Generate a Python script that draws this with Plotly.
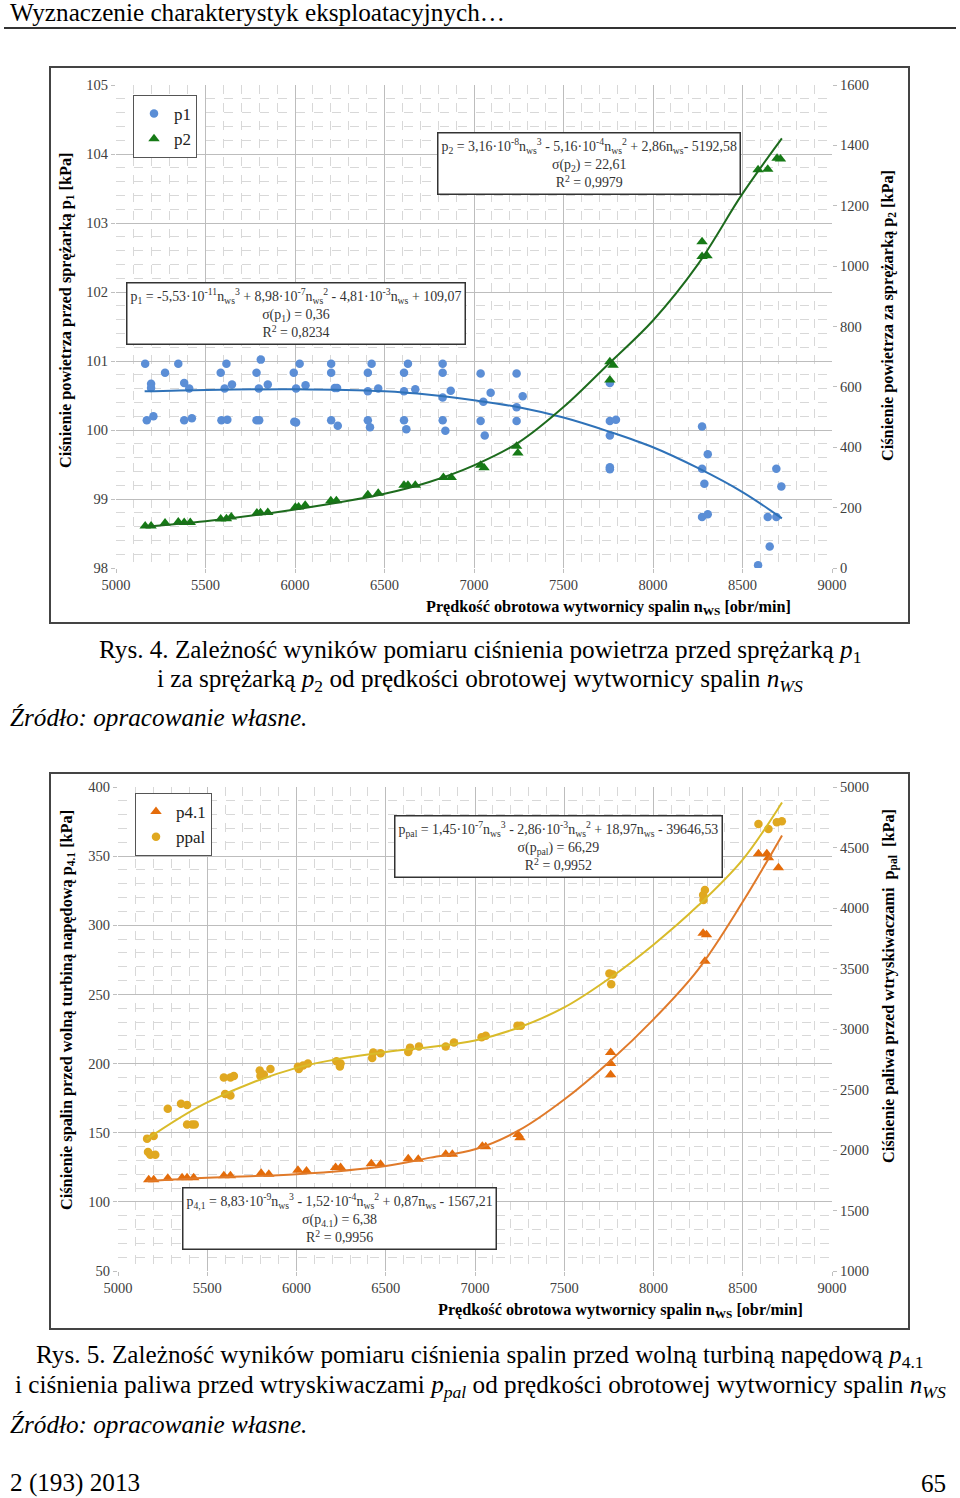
import plotly.graph_objects as go

# ---------------- Chart 1 (Rys. 4) data ----------------
n_p1 = [5163, 5196, 5196, 5172, 5209, 5274, 5348, 5381, 5409, 5381, 5424,
        5585, 5617, 5607, 5648, 5589, 5622, 5785, 5809, 5798, 5848, 5785, 5800,
        5993, 6026, 6006, 6059, 5996, 6006, 6202, 6202, 6222, 6235, 6202, 6239,
        6407, 6428, 6407, 6465, 6407, 6419, 6609, 6631, 6609, 6672, 6609, 6622,
        6825, 6825, 6825, 6870, 6825, 6840, 7037, 7052, 7093, 7037, 7060,
        7238, 7238, 7272, 7238, 7759, 7759, 7793, 7759, 7759, 7759,
        8274, 8274, 8287, 8306, 8274, 8306, 8689, 8717, 8641, 8689, 8652, 8587]
p1_vals = [100.96, 100.67, 100.61, 100.14, 100.20, 100.83, 100.96, 100.68, 100.60, 100.14, 100.17,
           100.83, 100.96, 100.60, 100.66, 100.14, 100.15, 100.83, 101.02, 100.60, 100.66, 100.14, 100.14,
           100.83, 100.96, 100.60, 100.65, 100.12, 100.11, 100.96, 100.83, 100.61, 100.61, 100.14, 100.06,
           100.83, 100.96, 100.56, 100.60, 100.14, 100.04, 100.83, 100.96, 100.56, 100.59, 100.14, 100.01,
           100.96, 100.83, 100.47, 100.57, 100.14, 99.99, 100.82, 100.41, 100.54, 100.13, 99.92,
           100.82, 100.33, 100.49, 100.13, 100.68, 100.13, 100.15, 99.92, 99.46, 99.43,
           100.05, 99.44, 99.22, 99.65, 98.74, 98.78, 99.44, 99.18, 98.74, 98.74, 98.31, 98.04]

n_p2 = [5163, 5196, 5274, 5348, 5381, 5415, 5585, 5617, 5644, 5787, 5807, 5848,
        6002, 6020, 6057, 6200, 6231, 6407, 6465, 6609, 6631, 6672, 6829, 6873,
        7037, 7056, 7238, 7245, 7759, 7759, 7777, 8274, 8274, 8302, 8587, 8641, 8693, 8712]
p2_vals = [139, 139, 149, 152, 151, 151, 162, 163, 169, 182, 183, 184,
           201, 202, 208, 223, 223, 243, 248, 274, 274, 274, 300, 300,
           340, 332, 403, 381, 683, 623, 672, 1081, 1032, 1034, 1319, 1321, 1357, 1355]

trend_n = [5160, 5500, 6000, 6500, 6750, 7000, 7250, 7500, 7750, 8000, 8250, 8500, 8720]
p1_trend = [100.56, 100.58, 100.59, 100.56, 100.51, 100.43, 100.33, 100.18, 99.98, 99.75, 99.45, 99.10, 98.72]
p2_trend = [137, 155, 194, 246, 285, 340, 416, 533, 675, 820, 1005, 1240, 1423]

# ---------------- Chart 2 (Rys. 5) data ----------------
n_p41 = [5172, 5200, 5279, 5359, 5387, 5424, 5593, 5630, 5802, 5845, 6008, 6056,
         6219, 6247, 6419, 6471, 6626, 6682, 6836, 6873, 7041, 7060, 7241, 7252,
         7760, 7760, 7760, 8278, 8297, 8288, 8588, 8635, 8644, 8700]
p41_vals = [115.9, 115.9, 117.0, 117.5, 117.5, 117.5, 118.8, 118.8, 120.7, 120.0, 122.8, 122.4,
            124.8, 124.8, 127.6, 127.2, 131.2, 130.8, 134.4, 134.4, 140.3, 139.8, 148.7, 146.3,
            208.0, 200.0, 192.0, 294.3, 293.1, 274.0, 351.7, 351.7, 348.8, 341.6]

n_pal = [5163, 5200, 5168, 5181, 5209, 5279, 5353, 5387, 5387, 5415, 5430,
         5593, 5630, 5649, 5600, 5630, 5794, 5817, 5854, 5798, 6008, 6037, 6064, 6013,
         6224, 6247, 6243, 6424, 6430, 6471, 6626, 6636, 6686, 6836, 6882,
         7037, 7060, 7238, 7257, 7753, 7772, 7763, 8278, 8288, 8280, 8588, 8644, 8691, 8719]
pal_vals = [2094, 2115, 1983, 1960, 1960, 2341, 2383, 2371, 2211, 2211, 2211,
            2600, 2600, 2611, 2463, 2451, 2657, 2623, 2669, 2611, 2687, 2698, 2714, 2669,
            2734, 2714, 2690, 2760, 2806, 2800, 2810, 2846, 2855, 2855, 2888,
            2932, 2945, 3027, 3027, 3459, 3451, 3369, 4107, 4148, 4066, 4694, 4653, 4708, 4716]

trend2_n = [5160, 5500, 6000, 6500, 6750, 7000, 7250, 7500, 7750, 8000, 8250, 8500, 8720]
p41_trend = [115, 117.5, 120, 126, 132, 138, 152, 174, 201, 232, 268, 317, 365]
pal_trend = [2088, 2394, 2679, 2810, 2851, 2905, 3015, 3178, 3415, 3697, 4020, 4400, 4872]

x_ticks = [5000, 5500, 6000, 6500, 7000, 7500, 8000, 8500, 9000]

W, H = 960, 1498
SERIF = "Liberation Serif, Times New Roman, serif"


def px(x):
    return x / W


def py(y):
    return 1 - y / H


fig = go.Figure()

BLUE_DOT = "#5b8ed6"
BLUE_LINE = "#2f72b8"
GREEN = "#167a16"
GREEN_LINE = "#1d6b1d"
ORANGE = "#e46c0a"
ORANGE_LINE = "#e07a2a"
GOLD = "#e0a820"
GOLD_LINE = "#d9bb2a"

fig.add_trace(go.Scatter(x=n_p1, y=p1_vals, mode="markers", name="p1",
                         marker=dict(color=BLUE_DOT, size=8.5, symbol="circle"),
                         xaxis="x", yaxis="y", legend="legend"))
fig.add_trace(go.Scatter(x=n_p2, y=p2_vals, mode="markers", name="p2",
                         marker=dict(color=GREEN, size=10, symbol="triangle-up"),
                         xaxis="x", yaxis="y2", legend="legend"))
fig.add_trace(go.Scatter(x=trend_n, y=p1_trend, mode="lines", line=dict(color=BLUE_LINE, width=2, shape="spline"),
                         xaxis="x", yaxis="y", showlegend=False, hoverinfo="skip"))
fig.add_trace(go.Scatter(x=trend_n, y=p2_trend, mode="lines", line=dict(color=GREEN_LINE, width=2, shape="spline"),
                         xaxis="x", yaxis="y2", showlegend=False, hoverinfo="skip"))

fig.add_trace(go.Scatter(x=n_p41, y=p41_vals, mode="markers", name="p4.1",
                         marker=dict(color=ORANGE, size=10, symbol="triangle-up"),
                         xaxis="x2", yaxis="y3", legend="legend2"))
fig.add_trace(go.Scatter(x=n_pal, y=pal_vals, mode="markers", name="ppal",
                         marker=dict(color=GOLD, size=8.5, symbol="circle"),
                         xaxis="x2", yaxis="y4", legend="legend2"))
fig.add_trace(go.Scatter(x=trend2_n, y=p41_trend, mode="lines", line=dict(color=ORANGE_LINE, width=2, shape="spline"),
                         xaxis="x2", yaxis="y3", showlegend=False, hoverinfo="skip"))
fig.add_trace(go.Scatter(x=trend2_n, y=pal_trend, mode="lines", line=dict(color=GOLD_LINE, width=2, shape="spline"),
                         xaxis="x2", yaxis="y4", showlegend=False, hoverinfo="skip"))

tickfont = dict(family=SERIF, size=14.5, color="#404040")
grid_major = "#bdbdbd"
minor_grid = dict(showgrid=True, gridcolor="#d8d8d8", griddash="dash", gridwidth=1)

common_x = dict(range=[5000, 9000], tickvals=x_ticks, ticktext=[str(t) for t in x_ticks],
                showgrid=True, gridcolor=grid_major, gridwidth=1, zeroline=False,
                ticks="outside", ticklen=4, tickcolor="#bfbfbf", tickfont=tickfont,
                showline=False, fixedrange=True, automargin=False)

fig.update_layout(
    width=W, height=H, autosize=False,
    margin=dict(l=0, r=0, t=0, b=0, pad=0, autoexpand=False),
    paper_bgcolor="white", plot_bgcolor="white",
    font=dict(family=SERIF, color="black"),
    xaxis=dict(domain=[px(116), px(832)], anchor="y", minor=dict(dtick=100, **minor_grid), **common_x),
    yaxis=dict(domain=[py(568), py(85)], anchor="x", range=[98, 105], dtick=1,
               showgrid=True, gridcolor=grid_major, zeroline=False, automargin=False,
               minor=dict(dtick=0.2, **minor_grid),
               ticks="outside", ticklen=4, tickcolor="#bfbfbf", tickfont=tickfont),
    yaxis2=dict(overlaying="y", side="right", anchor="x", range=[0, 1600], dtick=200, automargin=False,
                showgrid=False, zeroline=False, ticks="outside", ticklen=4, tickcolor="#bfbfbf",
                tickfont=tickfont),
    xaxis2=dict(domain=[px(118), px(832)], anchor="y3", minor=dict(dtick=100, **minor_grid), **common_x),
    yaxis3=dict(domain=[py(1271), py(787)], anchor="x2", range=[50, 400], dtick=50,
                showgrid=True, gridcolor=grid_major, zeroline=False, automargin=False,
                minor=dict(dtick=10, **minor_grid),
                ticks="outside", ticklen=4, tickcolor="#bfbfbf", tickfont=tickfont),
    yaxis4=dict(overlaying="y3", side="right", anchor="x2", range=[1000, 5000], dtick=500, automargin=False,
                showgrid=False, zeroline=False, ticks="outside", ticklen=4, tickcolor="#bfbfbf",
                tickfont=tickfont),
    legend=dict(x=px(133), y=py(95), xanchor="left", yanchor="top", bgcolor="white",
                bordercolor="#555555", borderwidth=1, font=dict(family=SERIF, size=17, color="#222"),
                itemwidth=30, tracegroupgap=0),
    legend2=dict(x=px(135), y=py(793), xanchor="left", yanchor="top", bgcolor="white",
                 bordercolor="#555555", borderwidth=1, font=dict(family=SERIF, size=17, color="#222"),
                 itemwidth=30, tracegroupgap=0),
    showlegend=True,
)

shapes = [
    dict(type="line", xref="paper", yref="paper", x0=px(4), x1=px(956), y0=py(28), y1=py(28),
         line=dict(color="#333333", width=2)),
    dict(type="rect", xref="paper", yref="paper", x0=px(50), x1=px(909), y0=py(623), y1=py(67),
         line=dict(color="#444444", width=2)),
    dict(type="rect", xref="paper", yref="paper", x0=px(50), x1=px(909), y0=py(1329), y1=py(773),
         line=dict(color="#444444", width=2)),
]
fig.update_layout(shapes=shapes)

ann = []


def text(x, y, s, size, xanchor="center", angle=0, bold=False, italic=False, color="black",
         border=None, yanchor="middle", align="center"):
    if bold:
        s = "<b>" + s + "</b>"
    if italic:
        s = "<i>" + s + "</i>"
    d = dict(x=px(x), y=py(y), xref="paper", yref="paper", text=s, showarrow=False,
             xanchor=xanchor, yanchor=yanchor, textangle=angle, align=align,
             font=dict(family=SERIF, size=size, color=color))
    if border:
        d.update(bordercolor=border, borderwidth=1.5, bgcolor="white", borderpad=3)
    ann.append(d)


PAGE = 25.2
# Page texts
text(8, 13, "Wyznaczenie charakterystyk eksploatacyjnych…", PAGE, xanchor="left")
text(480, 651, "Rys. 4. Zależność wyników pomiaru ciśnienia powietrza przed sprężarką <i>p</i><sub>1</sub>", PAGE)
text(480, 680, "i za sprężarką <i>p</i><sub>2</sub> od prędkości obrotowej wytwornicy spalin <i>n<sub>WS</sub></i>", PAGE)
text(8, 717, "Źródło: opracowanie własne.", PAGE, xanchor="left", italic=True)
text(480, 1356, "Rys. 5. Zależność wyników pomiaru ciśnienia spalin przed wolną turbiną napędową <i>p</i><sub>4.1</sub>", PAGE)
text(480, 1386, "i ciśnienia paliwa przed wtryskiwaczami <i>p<sub>pal</sub></i> od prędkości obrotowej wytwornicy spalin <i>n<sub>WS</sub></i>", PAGE)
text(8, 1424, "Źródło: opracowanie własne.", PAGE, xanchor="left", italic=True)
text(8, 1483, "2 (193) 2013", PAGE, xanchor="left")
text(948, 1483, "65", PAGE, xanchor="right")

# Axis titles chart 1
text(66, 311, "Ciśnienie powietrza przed sprężarką p<sub>1</sub> [kPa]", 16.3, angle=-90, bold=True)
text(888, 316, "Ciśnienie powietrza za sprężarką p<sub>2</sub> [kPa]", 16.3, angle=-90, bold=True)
text(608, 607, "Prędkość obrotowa wytwornicy spalin n<sub>WS</sub> [obr/min]", 16.2, bold=True)
# Axis titles chart 2
text(67, 1010, "Ciśnienie spalin przed wolną turbiną napędową p<sub>4.1</sub> [kPa]", 16.3, angle=-90, bold=True)
text(889, 986, "Ciśnienie paliwa przed wtryskiwaczami  p<sub>pal</sub>  [kPa]", 16.3, angle=-90, bold=True)
text(620, 1310, "Prędkość obrotowa wytwornicy spalin n<sub>WS</sub> [obr/min]", 16.2, bold=True)

EQ = 13.9
# Equation boxes
text(589, 164, "p<sub>2</sub> = 3,16·10<sup>-8</sup>n<sub>ws</sub><sup>3</sup> - 5,16·10<sup>-4</sup>n<sub>ws</sub><sup>2</sup>"
               " + 2,86n<sub>ws</sub>- 5192,58<br>σ(p<sub>2</sub>) = 22,61<br>R<sup>2</sup> = 0,9979", EQ,
     border="#333333", color="#333")
text(296, 314, "p<sub>1</sub> = -5,53·10<sup>-11</sup>n<sub>ws</sub><sup>3</sup> + 8,98·10<sup>-7</sup>n<sub>ws</sub><sup>2</sup>"
               " - 4,81·10<sup>-3</sup>n<sub>ws</sub> + 109,07<br>σ(p<sub>1</sub>) = 0,36<br>R<sup>2</sup> = 0,8234", EQ,
     border="#333333", color="#333")
text(558, 846, "p<sub>pal</sub> = 1,45·10<sup>-7</sup>n<sub>ws</sub><sup>3</sup> - 2,86·10<sup>-3</sup>n<sub>ws</sub><sup>2</sup>"
               " + 18,97n<sub>ws</sub> - 39646,53<br>σ(p<sub>pal</sub>) = 66,29<br>R<sup>2</sup> = 0,9952", EQ,
     border="#333333", color="#333")
text(339, 1218, "p<sub>4,1</sub> = 8,83·10<sup>-9</sup>n<sub>ws</sub><sup>3</sup> - 1,52·10<sup>-4</sup>n<sub>ws</sub><sup>2</sup>"
                " + 0,87n<sub>ws</sub> - 1567,21<br>σ(p<sub>4.1</sub>) = 6,38<br>R<sup>2</sup> = 0,9956", EQ,
     border="#333333", color="#333")

fig.update_layout(annotations=ann)

fig.write_html("out.html", config={"displayModeBar": False},
               post_script="document.body.style.margin='0';document.body.style.padding='0';"
                           "document.body.style.overflow='hidden';")
